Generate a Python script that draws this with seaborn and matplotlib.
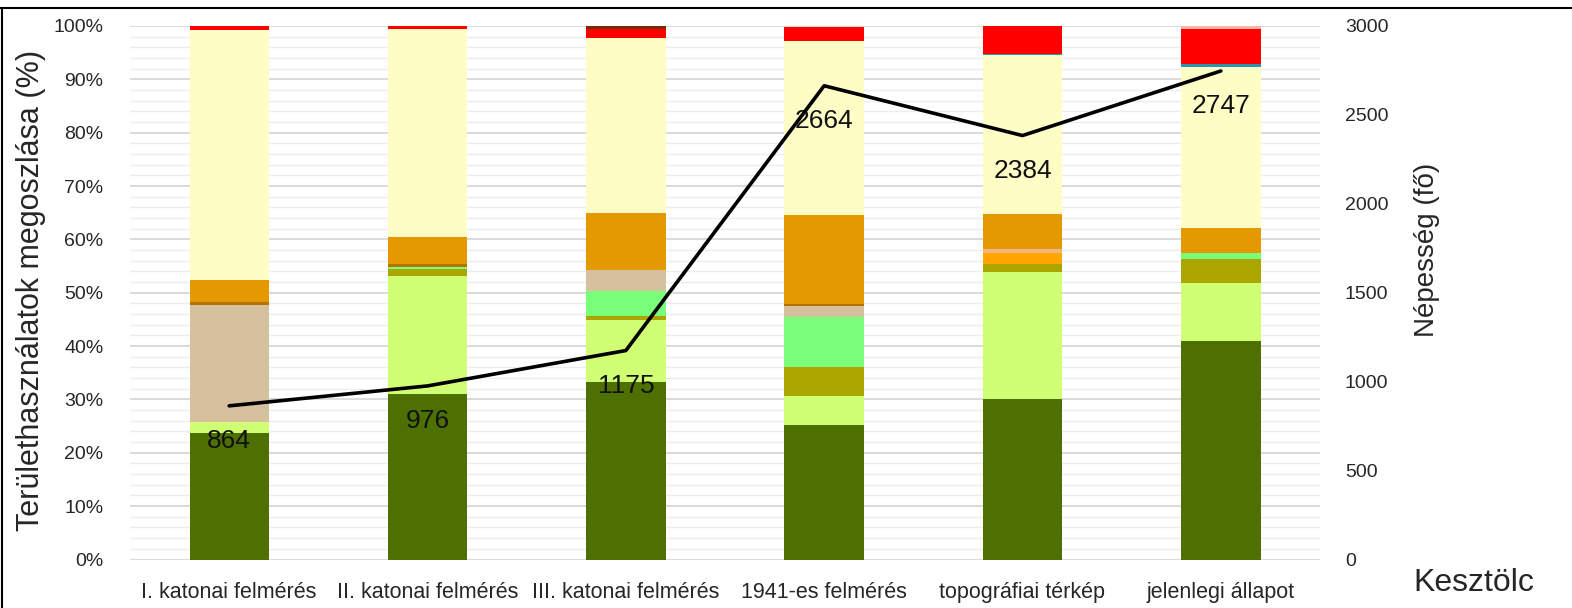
import matplotlib
matplotlib.use("Agg")
import matplotlib.pyplot as plt
import matplotlib.ticker as mticker
from matplotlib.lines import Line2D
import numpy as np
import pandas as pd
import seaborn as sns

# Surveys (x categories)
surveys = ['I. katonai felmérés', 'II. katonai felmérés', 'III. katonai felmérés',
           '1941-es felmérés', 'topográfiai térkép', 'jelenlegi állapot']

# Land-use shares (%) per survey, stacked bottom to top
erdo = [23.8, 31.0, 33.2, 25.2, 30.1, 40.9]
ret = [2.0, 22.2, 11.6, 5.4, 23.8, 11.0]
szolo = [0.0, 1.3, 0.9, 5.5, 1.4, 4.5]
gyumolcsos = [0.0, 0.4, 4.7, 9.3, 0.0, 1.0]
legelo = [21.9, 0.0, 3.8, 2.2, 0.0, 0.0]
kert = [0.6, 0.4, 0.0, 0.2, 0.0, 0.0]
banya = [0.0, 0.0, 0.0, 0.0, 2.2, 0.0]
ipar = [0.0, 0.0, 0.0, 0.0, 0.7, 0.0]
szanto = [4.1, 5.2, 10.7, 16.8, 6.5, 4.7]
mocsar = [46.9, 38.9, 32.9, 32.6, 29.9, 30.2]
viz = [0.0, 0.0, 0.0, 0.0, 0.2, 0.5]
belterulet = [0.7, 0.6, 1.7, 2.7, 5.3, 6.7]
kulterulet = [0.0, 0.0, 0.0, 0.0, 0.0, 0.5]
egyeb = [0.0, 0.0, 0.5, 0.0, 0.0, 0.0]

layers = [erdo, ret, szolo, gyumolcsos, legelo, kert, banya, ipar,
          szanto, mocsar, viz, belterulet, kulterulet, egyeb]
layer_colors = ['#4D7000', '#D0FF73', '#ABA500', '#79FF79', '#D6C19E', '#B67300',
                '#FFA600', '#F2B77E', '#E59900', '#FFFDC6', '#2A97B0', '#FF0000',
                '#FFB5A0', '#782C00']

# Population (right axis)
population = [864, 976, 1175, 2664, 2384, 2747]

sns.set_style('white')
plt.rcParams['font.family'] = ['Liberation Sans', 'DejaVu Sans']

fig = plt.figure(figsize=(15.72, 6.08), dpi=100)
ax = fig.add_axes([130 / 1572, 1 - 559.5 / 608, 1190 / 1572, 533.5 / 608])

bottom = np.zeros(len(surveys))
for vals, col in zip(layers, layer_colors):
    df = pd.DataFrame({'survey': surveys, 'share': vals})
    sns.barplot(data=df, x='survey', y='share', bottom=bottom, color=col,
                saturation=1, width=0.4, ax=ax, linewidth=0, zorder=2)
    bottom = bottom + np.array(vals)

ax.set_ylim(0, 100)
ax.set_xlim(-0.5, len(surveys) - 0.5)
ax.yaxis.set_major_locator(mticker.MultipleLocator(10))
ax.yaxis.set_minor_locator(mticker.MultipleLocator(2))
ax.yaxis.set_major_formatter(mticker.PercentFormatter(decimals=0))
ax.grid(axis='y', which='major', color='#D4D4D4', lw=1.2, zorder=0)
ax.grid(axis='y', which='minor', color='#EDEDED', lw=1.0, zorder=0)
ax.set_axisbelow(True)
for s in ax.spines.values():
    s.set_visible(False)
ax.tick_params(axis='both', which='both', length=0)
ax.tick_params(axis='y', labelsize=14, pad=19)
ax.tick_params(axis='x', labelsize=15.5, pad=16)
ax.set_xlabel('')
ax.set_ylabel('Területhasználatok megoszlása (%)', fontsize=22)
ax.yaxis.set_label_coords(-0.071, 0.505)

ax2 = ax.twinx()
sns.lineplot(x=np.arange(len(surveys)), y=population, ax=ax2, color='black',
             lw=2.6, zorder=5)
ax2.set_ylim(0, 3000)
ax2.yaxis.set_major_locator(mticker.MultipleLocator(500))
for s in ax2.spines.values():
    s.set_visible(False)
ax2.tick_params(axis='y', length=0, labelsize=14, pad=18)
ax2.set_ylabel('Népesség (fő)', fontsize=20)
ax2.yaxis.set_label_coords(1.079, 0.58)
ax2.grid(False)

for i, p in enumerate(population):
    ax2.annotate(str(p), (i, p), xytext=(0, -35), textcoords='offset pixels',
                 ha='center', va='center', fontsize=19, color='#111111')

fig.text(1413 / 1572, 1 - 583 / 608, 'Kesztölc', ha='left', va='center', fontsize=23)

# frame lines of the original chart box
fig.add_artist(Line2D([0, 1], [1 - 8 / 608, 1 - 8 / 608], transform=fig.transFigure,
                      color='black', lw=1.5))
fig.add_artist(Line2D([1.5 / 1572, 1.5 / 1572], [0, 1 - 8 / 608], transform=fig.transFigure,
                      color='black', lw=1.5))

fig.savefig('out.png', dpi=100, facecolor='white')
